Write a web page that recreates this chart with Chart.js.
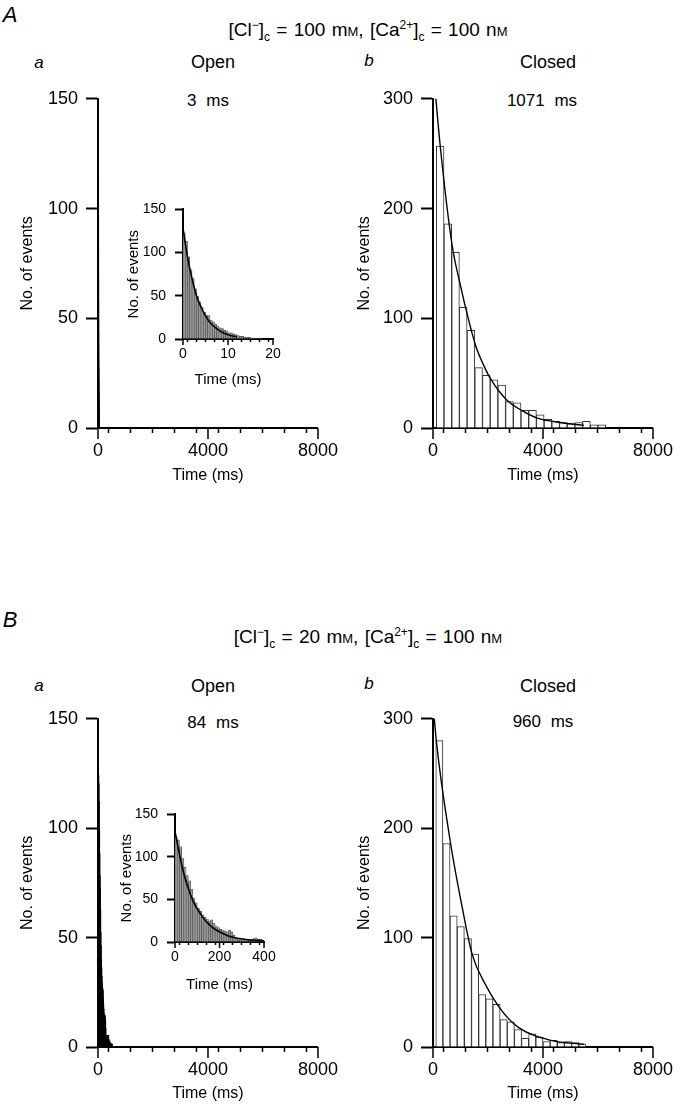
<!DOCTYPE html>
<html>
<head>
<meta charset="utf-8">
<script src="https://cdn.jsdelivr.net/npm/chart.js@4.4.1/dist/chart.umd.min.js"></script>
<style>
  html, body { margin: 0; padding: 0; background: #fff; }
  body { width: 681px; height: 1114px; position: relative; overflow: hidden;
         font-family: "Liberation Sans", Arial, Helvetica, sans-serif; color: #000; }
  canvas { position: absolute; }
  .t { position: absolute; white-space: nowrap; transform: translate(-50%, -50%); line-height: 1; }
  .big { font-size: 22px; font-style: italic; }
  .cond { font-size: 19px; word-spacing: 1px; }
  .cond sub, .cond sup { font-size: 12px; }
  .cond small { font-size: 13px; }
  .let { font-size: 17px; font-style: italic; }
  .st { font-size: 18px; }
  .tau { font-size: 17px; word-spacing: 5px; }
</style>
</head>
<body>

<div class="t big" style="left:10px;top:15px">A</div>
<div class="t cond" style="left:368px;top:31px">[Cl<sup>&minus;</sup>]<sub>c</sub> = 100 m<small>M</small>, [Ca<sup>2+</sup>]<sub>c</sub> = 100 n<small>M</small></div>
<div class="t let" style="left:39px;top:62px">a</div>
<div class="t st" style="left:213px;top:62px">Open</div>
<div class="t tau" style="left:208px;top:100px">3 ms</div>
<div class="t let" style="left:369px;top:60px">b</div>
<div class="t st" style="left:548px;top:62px">Closed</div>
<div class="t tau" style="left:542px;top:100px">1071 ms</div>

<div class="t big" style="left:10px;top:620px">B</div>
<div class="t cond" style="left:368px;top:638px">[Cl<sup>&minus;</sup>]<sub>c</sub> = 20 m<small>M</small>, [Ca<sup>2+</sup>]<sub>c</sub> = 100 n<small>M</small></div>
<div class="t let" style="left:39px;top:685px">a</div>
<div class="t st" style="left:213px;top:686px">Open</div>
<div class="t tau" style="left:213px;top:722px">84 ms</div>
<div class="t let" style="left:369px;top:683px">b</div>
<div class="t st" style="left:548px;top:686px">Closed</div>
<div class="t tau" style="left:543px;top:721px">960 ms</div>

<canvas id="aa" width="345" height="420" style="left:0px;top:80px"></canvas>
<canvas id="ab" width="345" height="420" style="left:335px;top:80px"></canvas>
<canvas id="ba" width="345" height="420" style="left:0px;top:700px"></canvas>
<canvas id="bb" width="345" height="420" style="left:335px;top:700px"></canvas>
<canvas id="ai" width="170" height="205" style="left:120px;top:192px"></canvas>
<canvas id="bi" width="170" height="205" style="left:112px;top:797px"></canvas>

<script>
// --- Data ---
// A: [Cl-]c = 100 mM, open times (0.5 ms bins)
const openABins = [0.25, 0.75, 1.25, 1.75, 2.25, 2.75, 3.25, 3.75, 4.25, 4.75,
                   5.25, 5.75, 6.25, 6.75, 7.25, 7.75, 8.25, 8.75, 9.25, 9.75,
                   10.25, 10.75, 11.25, 11.75, 12.25, 12.75, 13.25, 13.75, 14.25, 14.75,
                   15.25, 15.75, 16.25, 16.75, 17.25, 17.75, 18.25, 18.75, 19.25, 19.75];
const openACounts = [123, 113, 95, 80, 70, 58, 49, 43, 37, 31,
                     27, 27, 22, 20, 17, 15, 13, 12, 10, 9,
                     7, 7, 6, 5, 4, 3, 3, 2, 2, 2,
                     1, 1, 1, 0, 1, 0, 0, 0, 0, 0];
const openAFitT = [0, 1, 2, 3, 4, 5, 6, 7, 8, 9, 10, 11, 12];
const openAFitN = [128, 95, 70, 50, 37, 27, 19, 14, 10, 7, 5, 3.5, 2.5];

// A: closed times
const closedABins = [260, 540, 820, 1100, 1380, 1660, 1940, 2220, 2500, 2780, 3060,
                     3340, 3620, 3900, 4180, 4460, 4740, 5020, 5300, 5580, 5860, 6140];
const closedACounts = [257, 186, 160, 110, 89, 55, 48, 44, 39, 24, 23,
                       16, 16, 12, 8, 6, 5, 4, 5, 6, 3, 3];
const closedAFitT = [0, 263, 693, 979, 1290, 1552, 1827, 2113, 2663, 3224, 3797, 4633, 5493];
const closedAFitN = [330, 257, 167, 132, 99, 75, 58, 44, 26, 16, 9, 5, 2.4];

// B: [Cl-]c = 20 mM, open times (10 ms bins)
const openBBins = [5, 15, 25, 35, 45, 55, 65, 75, 85, 95,
                   105, 115, 125, 135, 145, 155, 165, 175, 185, 195,
                   205, 215, 225, 235, 245, 255, 265, 275, 285, 295,
                   305, 315, 325, 335, 345, 355, 365, 375, 385, 395];
const openBCounts = [124, 120, 112, 98, 88, 78, 72, 62, 52, 46,
                     40, 36, 32, 29, 27, 25, 26, 22, 19, 17,
                     15, 14, 13, 12, 14, 12, 8, 5, 4, 4,
                     3, 3, 3, 2, 3, 4, 5, 3, 3, 2];
const openBTailBins = [405, 415, 425, 435, 445, 455, 465, 475, 485, 495];
const openBTailCounts = [2, 2, 1, 1, 1, 1, 1, 1, 1, 1];
const openBFitT = [0, 20, 40, 60, 80, 100, 120, 140, 160, 180, 200, 240, 280, 320, 360, 400];
const openBFitN = [130, 103, 80, 63, 49, 39, 31, 24, 19, 15, 12, 7, 4.5, 3, 2, 1.5];

// B: closed times
const closedBBins = [230, 490, 750, 1010, 1270, 1530, 1790, 2050, 2310, 2570, 2830,
                     3090, 3350, 3610, 3870, 4130, 4390, 4650, 4910, 5170, 5430];
const closedBCounts = [280, 186, 120, 110, 99, 85, 48, 44, 39, 25, 23,
                       16, 8, 12, 9, 5, 6, 4, 5, 4, 3];
const closedBFitT = [0, 120, 621, 1075, 1433, 1910, 2507, 3104, 4300, 5490];
const closedBFitN = [315, 280, 189, 126, 84, 57, 33, 18, 6, 2.4];

// --- Helpers ---
const FONT = "'Liberation Sans', Arial, Helvetica, sans-serif";

function pts(xs, ys) { return xs.map((x, i) => ({ x: x, y: ys[i] })); }

// longer ticks at the labelled x values
const majorTicks = {
  id: 'majorTicks',
  afterDraw(chart, args, opts) {
    const sx = chart.scales.x, ctx = chart.ctx;
    ctx.save();
    ctx.strokeStyle = '#000';
    ctx.lineWidth = opts.width;
    opts.values.forEach(v => {
      const px = sx.getPixelForValue(v);
      ctx.beginPath();
      ctx.moveTo(px, sx.top);
      ctx.lineTo(px, sx.top + opts.len);
      ctx.stroke();
    });
    ctx.restore();
  }
};

function drawHist(id, s) {
  const datasets = [{
    type: 'bar',
    data: pts(s.bins, s.counts),
    backgroundColor: s.fill,
    borderColor: s.edge,
    borderWidth: s.edgeW,
    barPercentage: 1,
    categoryPercentage: 1,
    inflateAmount: s.inflate,
    order: 2
  }];
  if (s.fitT) {
    datasets.push({
      type: 'line',
      data: pts(s.fitT, s.fitN),
      borderColor: '#000',
      borderWidth: s.fitW,
      pointRadius: 0,
      cubicInterpolationMode: 'monotone',
      fill: false,
      order: 1
    });
  }
  return new Chart(document.getElementById(id), {
    type: 'bar',
    data: { datasets },
    options: {
      responsive: false,
      animation: false,
      layout: { padding: { top: 12, right: s.padR, left: 0, bottom: 0 } },
      plugins: {
        legend: { display: false },
        tooltip: { enabled: false },
        majorTicks: { values: s.major, len: s.majorLen, width: s.tickW }
      },
      scales: {
        x: {
          type: 'linear', min: 0, max: s.xMax, offset: false,
          afterFit: sc => { sc.height = s.xH; },
          border: { color: '#000', width: s.axisW },
          grid: { drawOnChartArea: false, tickLength: s.minorLen, tickColor: '#000', tickWidth: s.tickW },
          ticks: {
            stepSize: s.xStep, autoSkip: false, maxRotation: 0, padding: s.xPad, color: '#000',
            font: { family: FONT, size: s.tickSize },
            callback: v => (s.major.includes(v) ? String(v) : '')
          },
          title: { display: true, text: 'Time (ms)', color: '#000',
                   font: { family: FONT, size: s.titleSize }, padding: { top: 0, bottom: s.xTitlePad } }
        },
        y: {
          min: 0, max: s.yMax,
          afterFit: sc => { sc.width = s.yW; },
          border: { color: '#000', width: s.axisW },
          grid: { drawOnChartArea: false, tickLength: s.yTick, tickColor: '#000', tickWidth: s.axisW },
          ticks: { stepSize: s.yStep, padding: s.yPad, color: '#000', font: { family: FONT, size: s.tickSize } },
          title: { display: true, text: 'No. of events', color: '#000',
                   font: { family: FONT, size: s.titleSize }, padding: { top: s.yTitlePad, bottom: 0 } }
        }
      }
    },
    plugins: [majorTicks]
  });
}

const mainAxes = {
  xMax: 8000, xStep: 800, major: [0, 4000, 8000], minorLen: 5, majorLen: 11,
  yW: 98, yTick: 12, yPad: 8, xPad: 7, padR: 23, tickSize: 18, titleSize: 16,
  axisW: 2, tickW: 1.5
};
const insetAxes = {
  yMax: 150, yStep: 50, yTick: 8, yPad: 9, yW: 63, xPad: 4, tickSize: 14, titleSize: 15,
  minorLen: 3, majorLen: 6, axisW: 2, tickW: 1.5, xTitlePad: 8
};

// A a: open (main)
drawHist('aa', Object.assign({}, mainAxes, {
  bins: openABins, counts: openACounts, fill: '#000', edge: '#000', edgeW: 0, inflate: 1,
  yMax: 150, yStep: 50, xH: 72, xTitlePad: 15, yTitlePad: 18
}));
// A b: closed
drawHist('ab', Object.assign({}, mainAxes, {
  bins: closedABins, counts: closedACounts, fill: '#fff', edge: '#333', edgeW: 1, inflate: 'auto',
  fitT: closedAFitT, fitN: closedAFitN, fitW: 1.4,
  yMax: 300, yStep: 100, xH: 72, xTitlePad: 15, yTitlePad: 20
}));
// B a: open (main)
drawHist('ba', Object.assign({}, mainAxes, {
  bins: openBBins.concat(openBTailBins), counts: openBCounts.concat(openBTailCounts),
  fill: '#000', edge: '#000', edgeW: 0, inflate: 1,
  yMax: 150, yStep: 50, xH: 73, xTitlePad: 17, yTitlePad: 18
}));
// B b: closed
drawHist('bb', Object.assign({}, mainAxes, {
  bins: closedBBins, counts: closedBCounts, fill: '#fff', edge: '#333', edgeW: 1, inflate: 'auto',
  fitT: closedBFitT, fitN: closedBFitN, fitW: 1.4,
  yMax: 300, yStep: 100, xH: 73, xTitlePad: 17, yTitlePad: 20
}));
// insets: open times on short scale
drawHist('ai', Object.assign({}, insetAxes, {
  bins: openABins, counts: openACounts, fill: '#999', edge: '#444', edgeW: 0.6, inflate: 'auto',
  fitT: openAFitT, fitN: openAFitN, fitW: 1.6,
  xMax: 20, xStep: 2, major: [0, 10, 20], xH: 58, padR: 17, yTitlePad: 5
}));
drawHist('bi', Object.assign({}, insetAxes, {
  bins: openBBins, counts: openBCounts, fill: '#999', edge: '#444', edgeW: 0.6, inflate: 'auto',
  fitT: openBFitT, fitN: openBFitN, fitW: 1.6,
  xMax: 400, xStep: 40, major: [0, 200, 400], xH: 60, padR: 18, yTitlePad: 6
}));
</script>
</body>
</html>
